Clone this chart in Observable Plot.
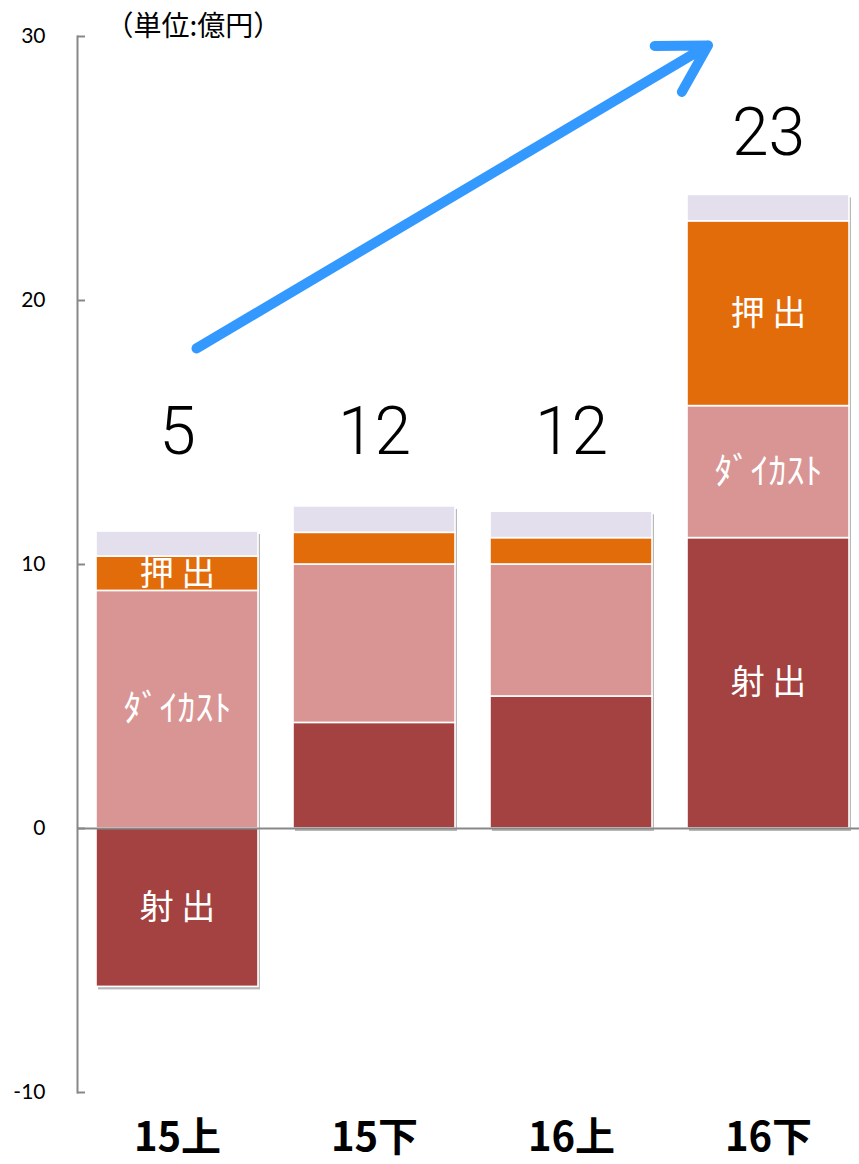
<!DOCTYPE html>
<html>
<head>
<meta charset="utf-8">
<script src="https://cdn.jsdelivr.net/npm/d3@7"></script>
<script src="https://cdn.jsdelivr.net/npm/@observablehq/plot@0.6"></script>
<style>
  html, body { margin: 0; padding: 0; background: #fff; }
  #chart { width: 859px; height: 1164px; }
</style>
</head>
<body>
<div id="chart"></div>
<script>
// ---- data ----
const categories = ["15上", "15下", "16上", "16下"];
const seriesNames = ["射出", "ダイカスト", "押出", "その他"];
const injection = [-6, 4, 5, 11];      // 射出
const diecast   = [9, 6, 5, 5];        // ダイカスト
const extrusion = [1.3, 1.2, 1, 7];    // 押出
const other     = [0.95, 1, 1, 1];     // その他
const totals    = ["5", "12", "12", "23"];
const totalLabelY = [15, 15, 15, 26.3];
const segmentLabels = ["射 出", "ﾀﾞｲｶｽﾄ", "押 出", ""];
const labeledCategories = ["15上", "16下"];
const yTicks = [-10, 0, 10, 20, 30];
const unitLabel = "（単位:億円）";
const arrowFrom = {cat: "15上", value: 17.76};
const arrowTo = {cat: "16下", value: 31.02};

const colors = ["#A34240", "#D99594", "#E36C0A", "#E4DFEC"];

const seriesValues = [injection, diecast, extrusion, other];
const rows = [];
categories.forEach((c, i) => {
  seriesNames.forEach((s, j) => {
    rows.push({
      cat: c,
      series: s,
      value: seriesValues[j][i],
      label: labeledCategories.includes(c) ? segmentLabels[j] : ""
    });
  });
});
const extents = categories.map((c, i) => {
  const vals = seriesValues.map(a => a[i]);
  return {
    cat: c,
    lo: d3.sum(vals.filter(v => v < 0)),
    hi: d3.sum(vals.filter(v => v > 0))
  };
});
const totalRows = categories.map((c, i) => ({cat: c, y: totalLabelY[i], text: totals[i]}));

const font = "'Noto Sans CJK JP', 'Noto Sans', sans-serif";

const plot = Plot.plot({
  width: 859,
  height: 1164,
  marginTop: 36,
  marginBottom: 72,
  marginLeft: 77,
  marginRight: 0,
  style: {fontFamily: font, background: "#fff", overflow: "visible"},
  x: {domain: categories, paddingInner: 0.178, paddingOuter: 0.071, align: 0.643, label: null},
  y: {domain: [-10, 30], label: null},
  color: {domain: seriesNames, range: colors},
  marks: [
    Plot.barY(extents, {
      x: "cat", y1: "lo", y2: "hi",
      fill: "#000", fillOpacity: 0.28, dx: 2, dy: 3,
      ariaLabel: "shadow"
    }),
    Plot.barY(rows, Plot.stackY({order: null}, {
      x: "cat", y: "value", fill: "series",
      stroke: "#fff", strokeWidth: 1.6
    })),
    Plot.text(rows, Plot.stackY({order: null}, {
      x: "cat", y: "value", text: "label",
      fill: "#fff", fontSize: d => d.series === "ダイカスト" ? 36 : 34, fontFamily: font
    })),
    Plot.ruleY([0], {stroke: "#888", strokeWidth: 2}),
    Plot.frame({anchor: "left", stroke: "#888", strokeWidth: 2}),
    Plot.axisY({
      ticks: yTicks, tickSize: -8, tickPadding: 40,
      tickFormat: d => String(d),
      stroke: "#888", strokeWidth: 2,
      fontSize: 21, fontFamily: "Lato, 'Open Sans', sans-serif", fill: "#000"
    }),
    Plot.axisX({
      tickSize: 0, tickPadding: 30, fontSize: 40, fontWeight: "bold",
      fontFamily: font, fill: "#000"
    }),
    Plot.text(totalRows, {
      x: "cat", y: "y", text: "text",
      fontSize: 66, fontWeight: 300, fontFamily: "Roboto, 'Noto Sans', sans-serif",
      fill: "#000", letterSpacing: 4
    }),
    Plot.text([unitLabel], {
      frameAnchor: "top-left", text: d => d, textAnchor: "start",
      dx: 28, dy: -20, fontSize: 28, fontFamily: font, fill: "#000"
    }),
    Plot.arrow([0], {
      x1: () => arrowFrom.cat, y1: () => arrowFrom.value,
      x2: () => arrowTo.cat, y2: () => arrowTo.value,
      insetStart: 22.1, insetEnd: 70.3,
      stroke: "#3399FF", strokeWidth: 10, headLength: 8, headAngle: 60,
      strokeLinecap: "round", strokeLinejoin: "miter"
    })
  ]
});

// soft drop shadow
const svg = d3.select(plot);
svg.insert("defs", ":first-child").html(
  '<filter id="shadowBlur" x="-20%" y="-20%" width="140%" height="140%"><feGaussianBlur stdDeviation="2.5"/></filter>'
);
svg.selectAll('g[aria-label="shadow"]').attr("filter", "url(#shadowBlur)");

document.getElementById("chart").appendChild(plot);
</script>
</body>
</html>
